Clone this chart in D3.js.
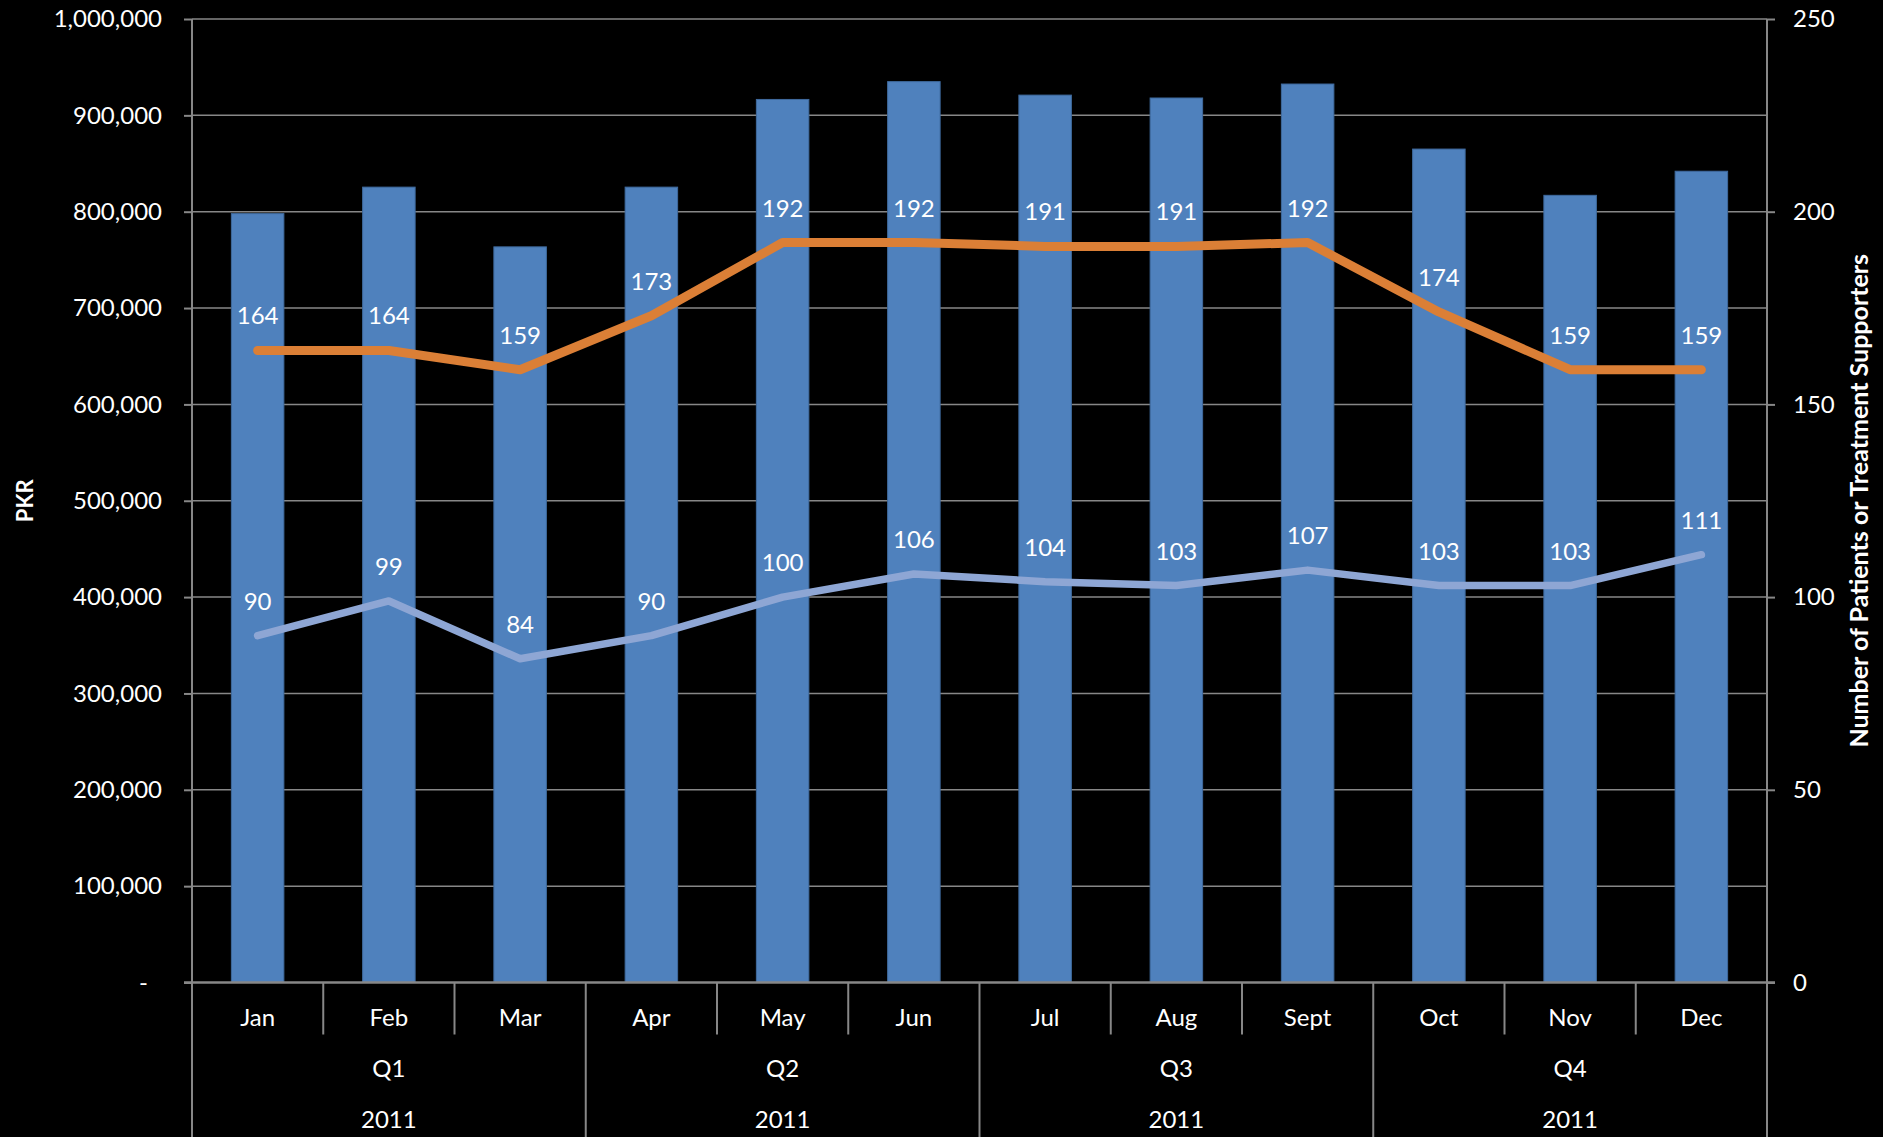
<!DOCTYPE html>
<html>
<head>
<meta charset="utf-8">
<script src="https://cdn.jsdelivr.net/npm/d3@7"></script>
<style>
    html, body { margin: 0; padding: 0; background: #000; }
    #chart-area { width: 1883px; height: 1137px; }
    text { font-family: Lato, "Open Sans", sans-serif; fill: #fff; }
</style>
</head>
<body>
<div id="chart-area"></div>
<script>
// chart data
let months = ["Jan", "Feb", "Mar", "Apr", "May", "Jun", "Jul", "Aug", "Sept", "Oct", "Nov", "Dec"];
let quarters = ["Q1", "Q2", "Q3", "Q4"];
let yearLabel = "2011";
let pkrValues = [798000, 825500, 763500, 825500, 916500, 935000, 921000, 918000, 932500, 865000, 817000, 842000];
let patients = [164, 164, 159, 173, 192, 192, 191, 191, 192, 174, 159, 159];
let supporters = [90, 99, 84, 90, 100, 106, 104, 103, 107, 103, 103, 111];
let leftTicks = [0, 100000, 200000, 300000, 400000, 500000, 600000, 700000, 800000, 900000, 1000000];
let rightTicks = [0, 50, 100, 150, 200, 250];

class ComboChart {
    constructor(parentElement) {
        this.parentElement = parentElement;
        this.initVis();
    }

    initVis() {
        let vis = this;

        vis.margin = {top: 19, right: 116, bottom: 154.5, left: 192};
        vis.totalWidth = 1883;
        vis.totalHeight = 1137;
        vis.width = vis.totalWidth - vis.margin.left - vis.margin.right;
        vis.height = vis.totalHeight - vis.margin.top - vis.margin.bottom;

        vis.svg = d3.select("#" + vis.parentElement).append("svg")
            .attr("width", vis.totalWidth)
            .attr("height", vis.totalHeight)
            .append("g")
            .attr("transform", `translate(${vis.margin.left}, ${vis.margin.top})`);

        // scales
        vis.x = d3.scaleBand()
            .domain(months)
            .range([0, vis.width])
            .paddingInner(0.6)
            .paddingOuter(0.3);

        vis.cell = d3.scaleBand()
            .domain(months)
            .range([0, vis.width]);

        vis.quarter = d3.scaleBand()
            .domain(quarters)
            .range([0, vis.width]);

        vis.y = d3.scaleLinear()
            .domain([0, 1000000])
            .range([vis.height, 0]);

        vis.y2 = d3.scaleLinear()
            .domain([0, 250])
            .range([vis.height, 0]);

        vis.updateVis();
    }

    updateVis() {
        let vis = this;
        let grey = "#878787";

        // gridlines
        vis.svg.append("g")
            .attr("class", "grid")
            .selectAll("line")
            .data(leftTicks.slice(1))
            .enter()
            .append("line")
            .attr("x1", 0)
            .attr("x2", vis.width)
            .attr("y1", d => vis.y(d))
            .attr("y2", d => vis.y(d))
            .attr("stroke", grey)
            .attr("stroke-width", 1.5);

        // left axis
        let fmt = d3.format(",");
        let yAxis = d3.axisLeft(vis.y)
            .tickValues(leftTicks)
            .tickSize(8)
            .tickPadding(22)
            .tickFormat(d => d === 0 ? "-" : fmt(d));

        let gy = vis.svg.append("g").attr("class", "y-axis axis").call(yAxis);
        gy.select(".domain").remove();
        gy.selectAll("line").attr("stroke", grey).attr("stroke-width", 2);
        gy.selectAll("text").attr("font-size", 24).style("fill", "#fff")
            .attr("dx", d => d === 0 ? -14 : 0);

        // right axis
        let y2Axis = d3.axisRight(vis.y2)
            .tickValues(rightTicks)
            .tickSize(8)
            .tickPadding(18);

        let gy2 = vis.svg.append("g")
            .attr("class", "y2-axis axis")
            .attr("transform", `translate(${vis.width}, 0)`)
            .call(y2Axis);
        gy2.select(".domain").remove();
        gy2.selectAll("line").attr("stroke", grey).attr("stroke-width", 2);
        gy2.selectAll("text").attr("font-size", 24).style("fill", "#fff");

        // bars
        vis.svg.selectAll(".bar")
            .data(pkrValues)
            .enter()
            .append("rect")
            .attr("class", "bar")
            .attr("x", (d, i) => vis.x(months[i]))
            .attr("y", d => vis.y(d))
            .attr("width", vis.x.bandwidth())
            .attr("height", d => vis.height - vis.y(d))
            .attr("fill", "#4F81BD")
            .attr("stroke", "#3F6A9E")
            .attr("stroke-width", 1);

        // vertical frame lines
        let bottomEdge = vis.totalHeight - vis.margin.top;
        vis.svg.append("line")
            .attr("x1", 0).attr("x2", 0)
            .attr("y1", 0).attr("y2", bottomEdge)
            .attr("stroke", grey).attr("stroke-width", 2);
        vis.svg.append("line")
            .attr("x1", vis.width).attr("x2", vis.width)
            .attr("y1", 0).attr("y2", bottomEdge)
            .attr("stroke", grey).attr("stroke-width", 2);

        // baseline
        vis.svg.append("line")
            .attr("x1", -8).attr("x2", vis.width + 8)
            .attr("y1", vis.height).attr("y2", vis.height)
            .attr("stroke", grey).attr("stroke-width", 2.5);

        // month separators
        vis.svg.selectAll(".month-sep")
            .data(months.slice(1))
            .enter()
            .append("line")
            .attr("class", "month-sep")
            .attr("x1", d => vis.cell(d)).attr("x2", d => vis.cell(d))
            .attr("y1", vis.height)
            .attr("y2", (d, i) => (i + 1) % 3 === 0 ? bottomEdge : vis.height + 52)
            .attr("stroke", grey).attr("stroke-width", 2);

        // category labels
        vis.svg.selectAll(".month-label")
            .data(months)
            .enter()
            .append("text")
            .attr("class", "month-label")
            .attr("x", d => vis.cell(d) + vis.cell.bandwidth() / 2)
            .attr("y", vis.height + 43)
            .attr("text-anchor", "middle")
            .attr("font-size", 24)
            .text(d => d);

        vis.svg.selectAll(".quarter-label")
            .data(quarters)
            .enter()
            .append("text")
            .attr("class", "quarter-label")
            .attr("x", d => vis.quarter(d) + vis.quarter.bandwidth() / 2)
            .attr("y", vis.height + 94)
            .attr("text-anchor", "middle")
            .attr("font-size", 24)
            .text(d => d);

        vis.svg.selectAll(".year-label")
            .data(quarters)
            .enter()
            .append("text")
            .attr("class", "year-label")
            .attr("x", d => vis.quarter(d) + vis.quarter.bandwidth() / 2)
            .attr("y", vis.height + 145)
            .attr("text-anchor", "middle")
            .attr("font-size", 24)
            .text(yearLabel);

        // lines
        let cx = (d, i) => vis.x(months[i]) + vis.x.bandwidth() / 2;
        let line = d3.line().x(cx).y(d => vis.y2(d));

        vis.svg.append("path")
            .datum(supporters)
            .attr("d", line)
            .attr("fill", "none")
            .attr("stroke", "#8EA6D4")
            .attr("stroke-width", 7.5)
            .attr("stroke-linecap", "round")
            .attr("stroke-linejoin", "round");

        vis.svg.append("path")
            .datum(patients)
            .attr("d", line)
            .attr("fill", "none")
            .attr("stroke", "#DB7F36")
            .attr("stroke-width", 9)
            .attr("stroke-linecap", "round")
            .attr("stroke-linejoin", "round");

        // data labels
        [patients, supporters].forEach(series => {
            vis.svg.append("g")
                .selectAll("text")
                .data(series)
                .enter()
                .append("text")
                .attr("x", cx)
                .attr("y", d => vis.y2(d) - 26)
                .attr("text-anchor", "middle")
                .attr("font-size", 24)
                .text(d => d);
        });

        // axis titles
        vis.svg.append("text")
            .attr("transform", `translate(${24 - vis.margin.left}, ${vis.height / 2}) rotate(-90)`)
            .attr("text-anchor", "middle")
            .attr("dominant-baseline", "central")
            .attr("font-size", 22)
            .attr("font-weight", "bold")
            .text("PKR");

        vis.svg.append("text")
            .attr("transform", `translate(${vis.width + 91}, ${vis.height / 2}) rotate(-90)`)
            .attr("text-anchor", "middle")
            .attr("dominant-baseline", "central")
            .attr("font-size", 25)
            .attr("font-weight", "bold")
            .text("Number of Patients or Treatment Supporters");
    }
}

new ComboChart("chart-area");
</script>
</body>
</html>
